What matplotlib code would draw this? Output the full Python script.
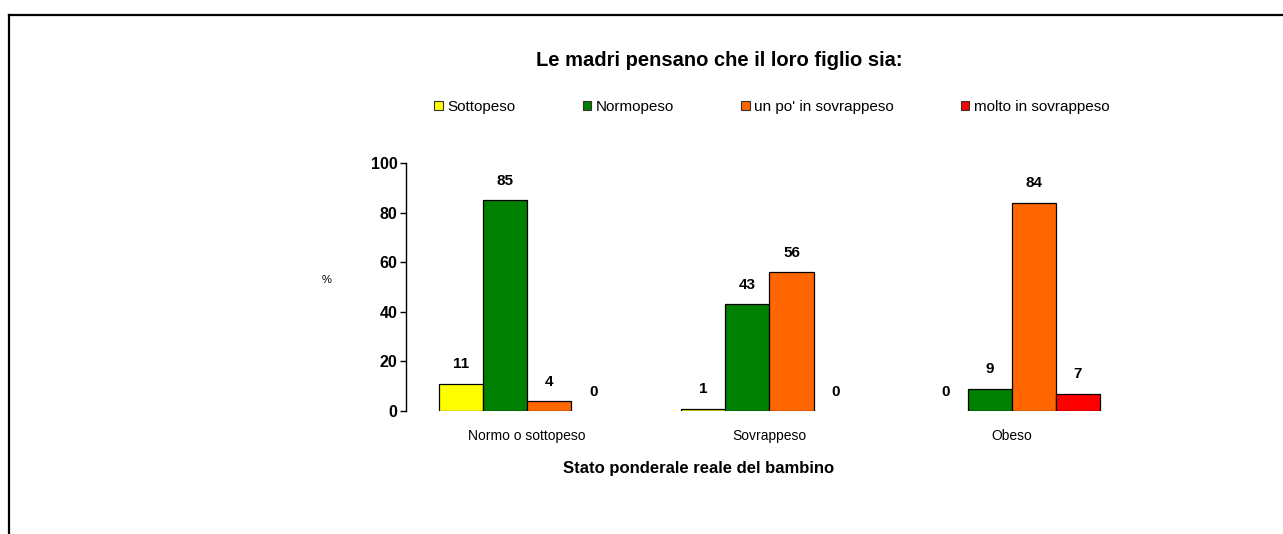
import matplotlib
matplotlib.use("Agg")
import matplotlib.pyplot as plt
import numpy as np
from matplotlib.lines import Line2D
from matplotlib.patches import Patch

categories = ["Normo o sottopeso", "Sovrappeso", "Obeso"]
series_names = ["Sottopeso", "Normopeso", "un po' in sovrappeso", "molto in sovrappeso"]
sottopeso = [11, 1, 0]
normopeso = [85, 43, 9]
un_po = [4, 56, 84]
molto = [0, 0, 7]
colors = ["#FFFF00", "#008000", "#FF6600", "#FF0000"]
yticks = [0, 20, 40, 60, 80, 100]

FONT = ["Liberation Sans Narrow", "Liberation Sans", "DejaVu Sans"]
plt.rcParams['font.family'] = FONT

W, H = 1283, 534
fig = plt.figure(figsize=(W / 100, H / 100), dpi=100)
ax = fig.add_axes([406 / W, 1 - 411 / H, (1133 - 406) / W, (411 - 163) / H])

data = [sottopeso, normopeso, un_po, molto]
x = np.arange(len(categories))
bw = 44 / 242
offsets = (np.arange(4) - 1.5) * bw
for i, vals in enumerate(data):
    lws = [0.9 if v > 0 else 0 for v in vals]
    ax.bar(x + offsets[i], vals, width=bw, color=colors[i],
           edgecolor="black", linewidth=lws, label=series_names[i])
    for xi, v in zip(x + offsets[i], vals):
        ax.annotate(f"{v}", (xi, v), xytext=(0, 9), textcoords="offset points",
                    ha="center", va="bottom", fontsize=11, fontweight="bold")

ax.set_xlim(-0.5, 2.5)
ax.set_ylim(0, 100)
ax.set_yticks(yticks)
ax.set_yticklabels([str(t) for t in yticks], fontsize=11.5, fontweight="bold")
ax.set_xticks(x)
ax.set_xticklabels(categories, fontsize=10)
ax.tick_params(axis="x", length=0, pad=13)
ax.tick_params(axis="y", direction="out", length=4, width=1, pad=2)
for s in ["top", "right", "bottom"]:
    ax.spines[s].set_visible(False)
ax.spines["left"].set_linewidth(1)

fig.text(327 / W, 1 - 280 / H, "%", fontsize=8, ha="center", va="center")
fig.text(719 / W, 1 - 61 / H, "Le madri pensano che il loro figlio sia:",
         fontsize=14.5, fontweight="bold", ha="center", va="center")
fig.text(699 / W, 1 - 468 / H, "Stato ponderale reale del bambino",
         fontsize=12, fontweight="bold", ha="center", va="center")

handles = [Patch(facecolor=c, edgecolor="#333333", linewidth=0.8) for c in colors]
leg = fig.legend(handles, series_names, ncol=4, loc="center",
                 bbox_to_anchor=(772 / W, 1 - 107 / H), frameon=False,
                 fontsize=11, handlelength=0.55, handleheight=0.55,
                 handletextpad=0.3, columnspacing=4.4)

# page border (top and left)
fig.add_artist(Line2D([9 / W, 1.0], [1 - 15 / H, 1 - 15 / H], color="black", linewidth=1.6,
                      transform=fig.transFigure))
fig.add_artist(Line2D([9 / W, 9 / W], [1 - 15 / H, 0.0], color="black", linewidth=1.6,
                      transform=fig.transFigure))

fig.savefig("out.png", dpi=100)
